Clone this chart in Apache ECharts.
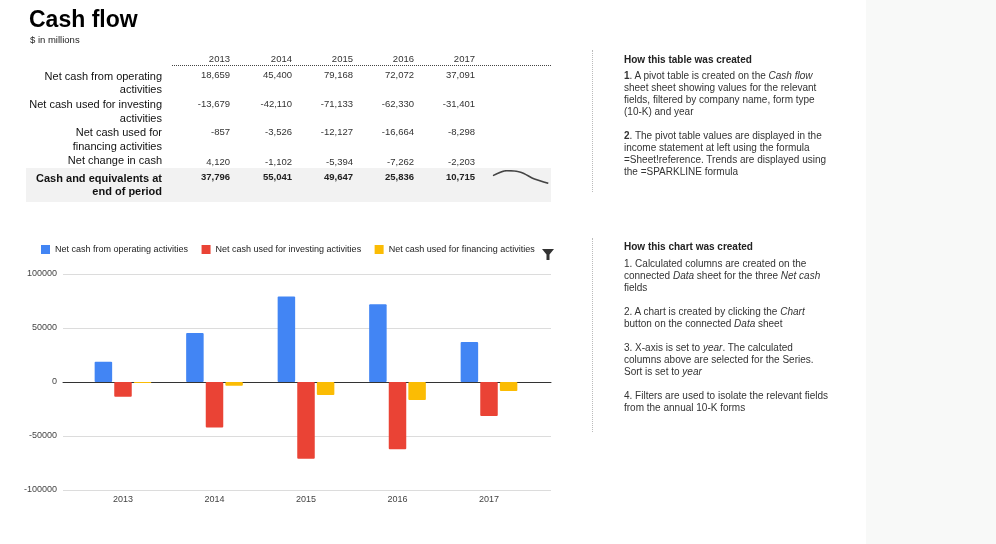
<!DOCTYPE html>
<html><head><meta charset="utf-8">
<script src="https://cdn.jsdelivr.net/npm/echarts@6/dist/echarts.min.js"></script>
<style>
html,body{margin:0;padding:0;background:#fff;}
body{width:996px;height:544px;position:relative;overflow:hidden;font-family:"Liberation Sans",Arial,sans-serif;color:#222;}
.t{position:absolute;white-space:nowrap;z-index:3;}
#chart{position:absolute;left:0;top:0;width:996px;height:544px;z-index:2;}
.bg{position:absolute;z-index:1;}
</style></head><body>
<div class="bg" style="left:866px;top:0;width:130px;height:544px;background:#f8f9f8;"></div>
<div class="bg" style="left:26px;top:168px;width:525px;height:34px;background:#f2f2f2;"></div>
<div class="bg" style="left:172px;top:65px;width:379px;height:0;border-top:1px dotted #444;"></div>
<div class="bg" style="left:592px;top:50px;width:0;height:142px;border-left:1px dotted #bbb;"></div>
<div class="bg" style="left:592px;top:238px;width:0;height:194px;border-left:1px dotted #bbb;"></div>
<div id="chart"></div>
<script>
// ---- data ----
const years = ['2013', '2014', '2015', '2016', '2017'];
const operating = [18659, 45400, 79168, 72072, 37091];
const investing = [-13679, -42110, -71133, -62330, -31401];
const financing = [-857, -3526, -12127, -16664, -8298];
const netChange = [4120, -1102, -5394, -7262, -2203];
const cashEnd = [37796, 55041, 49647, 25836, 10715];
const seriesNames = ['Net cash from operating activities', 'Net cash used for investing activities', 'Net cash used for financing activities'];
const rowLabels = [
  ['Net cash from operating', 'activities'],
  ['Net cash used for investing', 'activities'],
  ['Net cash used for', 'financing activities'],
  ['Net change in cash'],
  ['Cash and equivalents at', 'end of period']
];
const tableRows = [operating, investing, financing, netChange, cashEnd];
const yMin = -100000, yMax = 100000, yStep = 50000;
const title = 'Cash flow';
const subtitle = '$ in millions';
const tableNotes = [
  ['<b>How this table was created</b>'],
  ['<b>1</b>. A pivot table is created on the <i>Cash flow</i>', 'sheet sheet showing values for the relevant', 'fields, filtered by company name, form type', '(10-K) and year'],
  ['<b>2</b>. The pivot table values are displayed in the', 'income statement at left using the formula', '=Sheet!reference. Trends are displayed using', 'the =SPARKLINE formula']
];
const chartNotes = [
  ['<b>How this chart was created</b>'],
  ['1. Calculated columns are created on the', 'connected <i>Data</i> sheet for the three <i>Net cash</i>', 'fields'],
  ['2. A chart is created by clicking the <i>Chart</i>', 'button on the connected <i>Data</i> sheet'],
  ['3. X-axis is set to <i>year</i>. The calculated', 'columns above are selected for the Series.', 'Sort is set to <i>year</i>'],
  ['4. Filters are used to isolate the relevant fields', 'from the annual 10-K forms']
];

// ---- text helpers ----
function addText(html, x, cy, o) {
  o = o || {};
  const fs = o.fs || 10, L = Math.round(fs * 1.3);
  const d = document.createElement('div');
  d.className = 't';
  d.innerHTML = html;
  d.style.fontSize = fs + 'px';
  d.style.lineHeight = L + 'px';
  d.style.top = (cy - L / 2) + 'px';
  if (o.bold) d.style.fontWeight = 'bold';
  if (o.color) d.style.color = o.color;
  if (o.align === 'right') { d.style.right = (996 - x) + 'px'; d.style.textAlign = 'right'; }
  else d.style.left = x + 'px';
  document.body.appendChild(d);
}
const fmt = v => v.toLocaleString('en-US');

addText(title, 29, 19, {fs: 23, bold: true, color: '#000'});
addText(subtitle, 30, 40, {fs: 9.5, color: '#222'});

const colRight = [230, 292, 353, 414, 475];
years.forEach((y, i) => addText(y, colRight[i], 59, {fs: 9.5, align: 'right', color: '#333'}));
const labelCy = [[75.5, 89], [104, 118], [132, 146], [160], [177.5, 191]];
const valueCy = [75, 103.5, 131.5, 161.5, 176.5];
rowLabels.forEach((lines, r) => {
  const bold = r === 4;
  lines.forEach((ln, k) => addText(ln, 162, labelCy[r][k], {fs: 11, align: 'right', bold, color: '#111'}));
  tableRows[r].forEach((v, i) => addText(fmt(v), colRight[i], valueCy[r], {fs: 9.5, align: 'right', bold, color: bold ? '#222' : '#333'}));
});

(function () {
  addText(tableNotes[0][0], 624, 59, {fs: 10, color: '#222'});
  let cy = 75;
  tableNotes.slice(1).forEach(g => { g.forEach(ln => { addText(ln, 624, cy, {fs: 10, color: '#333'}); cy += 12; }); cy += 12; });
  addText(chartNotes[0][0], 624, 246.5, {fs: 10, color: '#222'});
  cy = 263;
  chartNotes.slice(1).forEach(g => { g.forEach(ln => { addText(ln, 624, cy, {fs: 10, color: '#333'}); cy += 12; }); cy += 12; });
})();

// ---- chart ----
const FF = '"Liberation Sans", Arial, sans-serif';
const chart = echarts.init(document.getElementById('chart'), null, {renderer: 'canvas'});
const colors = ['#4285f4', '#ea4335', '#fbbc04'];
const barData = [operating, investing, financing];
chart.setOption({
  animation: false,
  textStyle: {fontFamily: FF},
  legend: {
    left: 41, top: 245, padding: 0, itemWidth: 9, itemHeight: 9, itemGap: 13.5, icon: 'rect',
    textStyle: {fontSize: 9, color: '#222', fontFamily: FF},
    data: seriesNames
  },
  grid: [
    {left: 63, top: 274, width: 488, height: 216},
    {left: 77.25, top: 274, width: 457.5, height: 216},
    {left: 493, top: 170.7, width: 55.3, height: 12.6}
  ],
  xAxis: [
    {gridIndex: 0, type: 'category', data: years, axisLine: {show: true, onZero: true, lineStyle: {color: '#333', width: 1}}, axisTick: {show: false}, axisLabel: {show: false}, splitLine: {show: false}},
    {gridIndex: 1, type: 'category', data: years, axisLine: {show: false}, axisTick: {show: false}, axisLabel: {fontSize: 9, color: '#444', margin: 5, fontFamily: FF}},
    {gridIndex: 2, type: 'category', data: years, boundaryGap: false, show: false}
  ],
  yAxis: [
    {gridIndex: 0, type: 'value', min: yMin, max: yMax, interval: yStep, axisLine: {show: false}, axisTick: {show: false},
      axisLabel: {fontSize: 9, color: '#444', margin: 6, fontFamily: FF, formatter: v => String(v)}, splitLine: {lineStyle: {color: '#dcdcdc', width: 1}}},
    {gridIndex: 1, type: 'value', min: yMin, max: yMax, interval: yStep, show: false, splitLine: {show: false}},
    {gridIndex: 2, type: 'value', min: Math.min(...cashEnd), max: Math.max(...cashEnd), show: false, splitLine: {show: false}}
  ],
  series: barData.map((d, i) => ({
    type: 'bar', name: seriesNames[i], xAxisIndex: 1, yAxisIndex: 1, data: d,
    barWidth: 17.5, barGap: '12%', itemStyle: {color: colors[i], borderRadius: 1}
  })).concat([{
    type: 'line', xAxisIndex: 2, yAxisIndex: 2, data: cashEnd, symbol: 'none', smooth: 0.3, silent: true,
    lineStyle: {color: '#444', width: 1.6}
  }]),
  color: colors,
  graphic: [{
    type: 'polygon', left: 542, top: 249,
    shape: {points: [[0, 0], [12, 0], [7.5, 5.5], [7.5, 11], [4.5, 11], [4.5, 5.5]]},
    style: {fill: '#333'}
  }]
});
</script>
</body></html>
